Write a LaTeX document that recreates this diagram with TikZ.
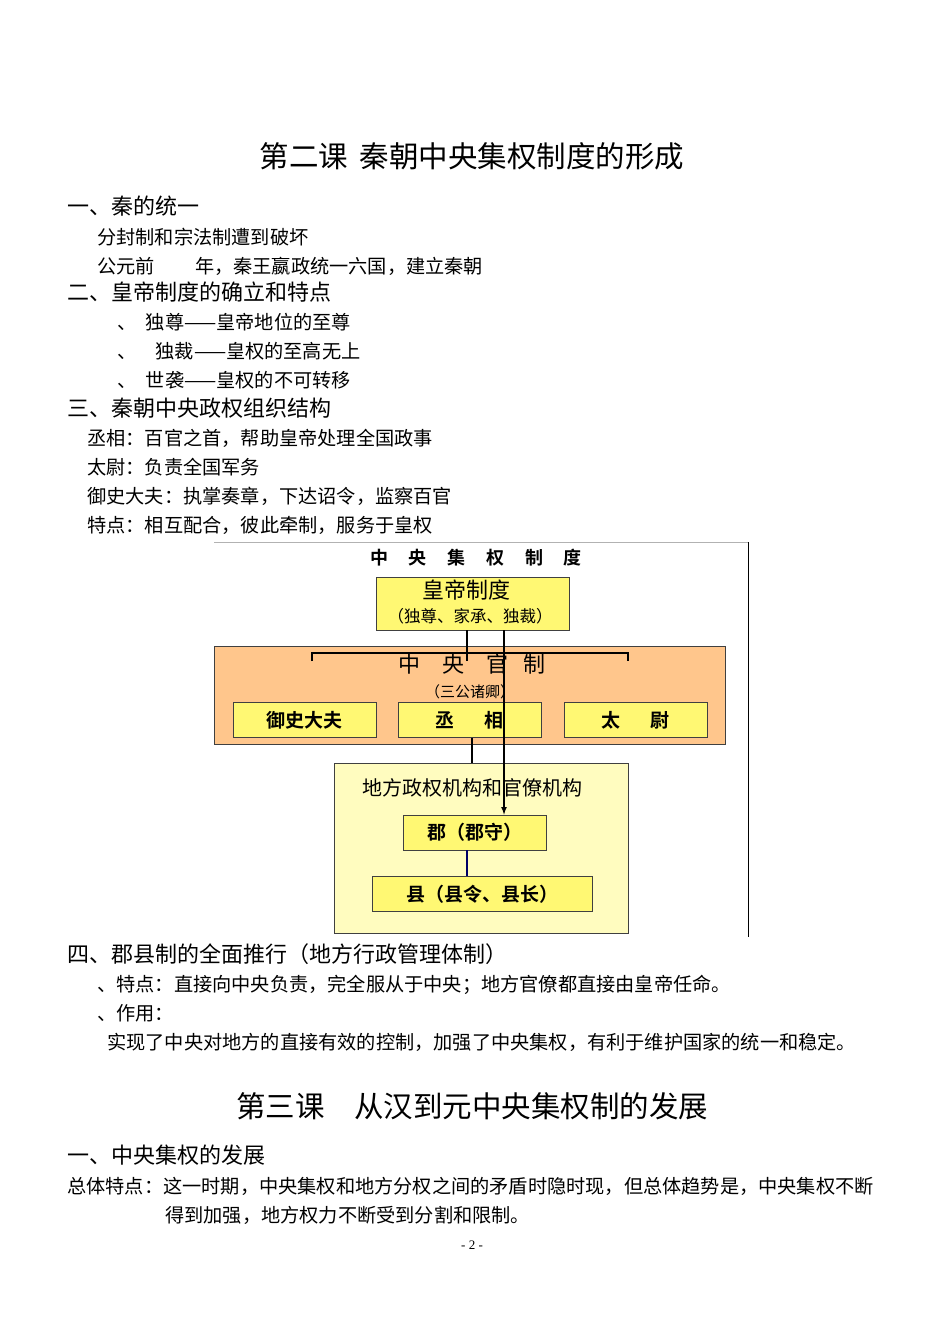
\documentclass[tikz,border=0pt]{standalone}
\usepackage{fontspec}
\setmainfont{Liberation Serif}
\newfontfamily\cjk{Noto Sans CJK SC}
\newfontfamily\cjkb{Noto Sans CJK SC Bold}
\begin{document}
\begin{tikzpicture}[x=1pt,y=-1pt,
  txt/.style={anchor=west,inner sep=0pt,font=\cjk\fontsize{19.2}{21}\selectfont},
  head/.style={anchor=west,inner sep=0pt,font=\cjk\fontsize{22}{24}\selectfont},
  ttl/.style={inner sep=0pt,font=\cjk\fontsize{29.5}{32}\selectfont},
  sh/.style={draw=black!75,line width=0.8pt},
  office/.style={sh,fill=yellow!55,minimum height=35pt,font=\cjkb\fontsize{19}{21}\selectfont,inner sep=0pt},
  link/.style={line width=2.4pt}]
\useasboundingbox (0,0) rectangle (950,1341);
\fill[white] (0,0) rectangle (950,1341);
\node[ttl] (t1) at (472,156) {第二课\hspace{0.4em}秦朝中央集权制度的形成};
\node[head] (h1) at (67,206) {一、秦的统一};
\node[txt] (a1) at (97,237) {分封制和宗法制遭到破坏};
\node[txt] (a2) at (97,266) {公元前\hspace{2.1em}年，秦王嬴政统一六国，建立秦朝};
\node[head] (h2) at (67,292) {二、皇帝制度的确立和特点};
\node[txt] (b1) at (117,322) {、\hspace{0.5em}独尊——皇帝地位的至尊};
\node[txt] (b2) at (117,351) {、\hspace{1em}独裁——皇权的至高无上};
\node[txt] (b3) at (117,380) {、\hspace{0.5em}世袭——皇权的不可转移};
\node[head] (h3) at (67,408) {三、秦朝中央政权组织结构};
\node[txt] (c1) at (87,438) {丞相：百官之首，帮助皇帝处理全国政事};
\node[txt] (c2) at (87,467) {太尉：负责全国军务};
\node[txt] (c3) at (87,496) {御史大夫：执掌奏章，下达诏令，监察百官};
\node[txt] (c4) at (87,525) {特点：相互配合，彼此牵制，服务于皇权};
% diagram
\coordinate (fa) at (214,542); \coordinate (fb) at (748,542); \coordinate (fc) at (748,937);
\draw[black!30,line width=0.5pt] (fa) -- (fb);
\draw[line width=0.8pt] (fb) -- (fc);
\node[inner sep=0pt,font=\cjkb\fontsize{18}{20}\selectfont] (dt) at (476,558) {中\hspace{1.15em}央\hspace{1.15em}集\hspace{1.15em}权\hspace{1.15em}制\hspace{1.15em}度};
\node[sh,fill=orange!45,minimum width=511pt,minimum height=98pt,inner sep=0pt] (zy) at (469.5,695) {};
\node[sh,fill=yellow!25,minimum width=294pt,minimum height=170pt,inner sep=0pt] (df) at (481,848) {};
\node[sh,fill=yellow!55,minimum width=193pt,minimum height=53pt,inner sep=0pt] (hd) at (472.5,603.5) {};
\node[inner sep=0pt,font=\cjk\fontsize{22}{24}\selectfont] (hdt) at (466,590) {皇帝制度};
\node[inner sep=0pt,font=\cjk\fontsize{16.5}{18}\selectfont] (hds) at (470,616) {（独尊、家承、独裁）};
\node[inner sep=0pt,font=\cjk\fontsize{22}{24}\selectfont] (zyt) at (472,664) {中\hspace{1em}央\hspace{1em}官\hspace{0.7em}制};
\node[inner sep=0pt,font=\cjk\fontsize{15}{17}\selectfont] (zys) at (470,692) {（三公诸卿）};
\node[office,minimum width=143pt] (ys) at (304.5,720) {御史大夫};
\node[office,minimum width=143pt] (cx) at (469.5,720) {丞\hspace{1.6em}相};
\node[office,minimum width=143pt] (tw) at (635.5,720) {太\hspace{1.6em}尉};
\node[inner sep=0pt,font=\cjk\fontsize{20}{22}\selectfont] (dft) at (472,788) {地方政权机构和官僚机构};
\node[office,minimum width=143pt] (jun) at (474.5,832.5) {郡（郡守）};
\node[office,minimum width=220pt] (xian) at (482,894) {县（县令、县长）};
\coordinate (bl) at (312,661); \coordinate (br) at (628,661);
\coordinate (bm) at (467,653);
\draw[link] (bl) |- (bm) -| (br);
\draw[link] (hd.south -| bm) -- (bm) -- (467,661);
\draw[link] (cx.south -| 472,0) -- (df.north -| 472,0);
\draw[line width=1.6pt,-latex] (hd.south -| 504,0) -- (jun.north -| 504,0);
\draw[line width=2pt,blue!40!black] (jun.south -| 467,0) -- (xian.north -| 467,0);
% after diagram
\node[head] (h4) at (67,954) {四、郡县制的全面推行（地方行政管理体制）};
\node[txt] (d1) at (97,985) {、特点：直接向中央负责，完全服从于中央；地方官僚都直接由皇帝任命。};
\node[txt] (d2) at (97,1013) {、作用：};
\node[txt] (d3) at (107,1042) {实现了中央对地方的直接有效的控制，加强了中央集权，有利于维护国家的统一和稳定。};
\node[ttl] (t2) at (472,1106) {第三课\hspace{1em}从汉到元中央集权制的发展};
\node[head] (h5) at (67,1155) {一、中央集权的发展};
\node[txt] (e1) at (67,1186) {总体特点：这一时期，中央集权和地方分权之间的矛盾时隐时现，但总体趋势是，中央集权不断};
\node[txt] (e2) at (165,1215) {得到加强，地方权力不断受到分割和限制。};
\node[inner sep=0pt,font=\fontsize{13}{15}\selectfont] (pg) at (472,1245) {- 2 -};
\end{tikzpicture}
\end{document}
